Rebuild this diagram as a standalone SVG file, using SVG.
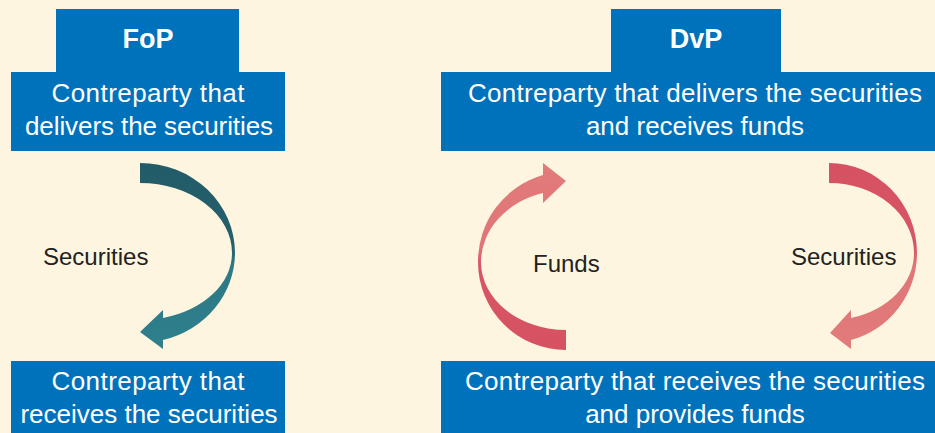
<svg xmlns="http://www.w3.org/2000/svg" width="935" height="433" viewBox="0 0 935 433">
<style>
.box{fill:#0072bb}
.bt{font-family:"Liberation Sans",Arial,sans-serif;font-size:26px;fill:#ffffff;text-anchor:middle}
.tab{font-family:"Liberation Sans",Arial,sans-serif;font-size:27px;font-weight:bold;fill:#ffffff;text-anchor:middle}
.lbl{font-family:"Liberation Sans",Arial,sans-serif;font-size:24px;fill:#222222}
</style>
<defs>
<linearGradient id="teal" x1="0" y1="0" x2="0" y2="1">
<stop offset="0" stop-color="#215c68"/>
<stop offset="0.45" stop-color="#245f6b"/>
<stop offset="0.55" stop-color="#2d7986"/>
<stop offset="1" stop-color="#2f7f8c"/>
</linearGradient>
<linearGradient id="redDown" x1="0" y1="0" x2="0" y2="1">
<stop offset="0" stop-color="#d65263"/>
<stop offset="0.45" stop-color="#d75566"/>
<stop offset="0.55" stop-color="#df7577"/>
<stop offset="1" stop-color="#e27b7b"/>
</linearGradient>
<linearGradient id="redUp" x1="0" y1="0" x2="0" y2="1">
<stop offset="0" stop-color="#e27b7b"/>
<stop offset="0.45" stop-color="#df7577"/>
<stop offset="0.55" stop-color="#d75566"/>
<stop offset="1" stop-color="#d65263"/>
</linearGradient>
</defs>
<rect x="0" y="0" width="935" height="433" fill="#fdf5df"/>

<g id="fop-title">
<rect class="box" x="56" y="9" width="183" height="64"/>
<text class="tab" x="148" y="48">FoP</text>
</g>
<g id="fop-deliverer">
<rect class="box" x="11" y="72" width="274" height="79"/>
<text class="bt" x="148" y="102" textLength="193">Contreparty that</text>
<text class="bt" x="149" y="135" textLength="248">delivers the securities</text>
</g>
<g id="fop-receiver">
<rect class="box" x="11" y="361" width="274" height="72"/>
<text class="bt" x="148" y="390" textLength="193">Contreparty that</text>
<text class="bt" x="149" y="423">receives the securities</text>
</g>

<g id="dvp-title">
<rect class="box" x="611" y="9" width="170" height="64"/>
<text class="tab" x="696" y="48">DvP</text>
</g>
<g id="dvp-deliverer">
<rect class="box" x="441" y="72" width="494" height="79"/>
<text class="bt" x="695" y="102" textLength="454">Contreparty that delivers the securities</text>
<text class="bt" x="695" y="135">and receives funds</text>
</g>
<g id="dvp-receiver">
<rect class="box" x="441" y="361" width="494" height="72"/>
<text class="bt" x="695" y="390" textLength="460">Contreparty that receives the securities</text>
<text class="bt" x="695" y="423">and provides funds</text>
</g>

<g id="connectors">
<g id="fop-securities">
<path fill="url(#teal)" d="M140,163 A95,90 0 0 1 235,253 A95,90 0 0 1 163,340 L163,349 L140,332 L163,310 L163,318 A92,67 0 0 0 232,253 A92,70 0 0 0 140,183 Z"/>
<text class="lbl" x="43" y="265">Securities</text>
</g>
<g id="dvp-funds">
<path fill="url(#redUp)" d="M566,350 A88,88 0 0 1 478,262 A90,90 0 0 1 543,175 L543,163 L566,181 L543,203 L543,193 A85,72 0 0 0 481,262 A85,68 0 0 0 566,330 Z"/>
<text class="lbl" x="533" y="272">Funds</text>
</g>
<g id="dvp-securities">
<path fill="url(#redDown)" d="M829,163 A88,90 0 0 1 917,253 A88,90 0 0 1 851,340 L851,349 L830,333 L851,310 L851,318 A85,67 0 0 0 914,253 A85,70 0 0 0 829,183 Z"/>
<text class="lbl" x="791" y="265">Securities</text>
</g>
</g>
</svg>
